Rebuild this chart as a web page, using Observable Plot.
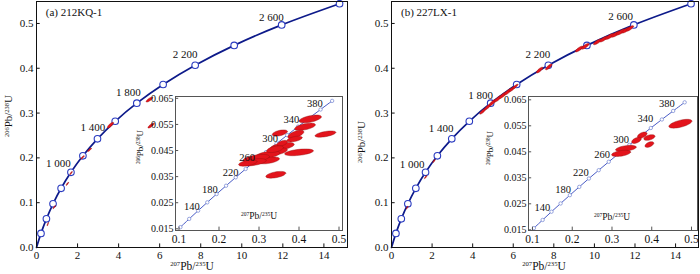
<!DOCTYPE html>
<html><head><meta charset="utf-8">
<script src="https://cdn.jsdelivr.net/npm/d3@7"></script>
<script src="https://cdn.jsdelivr.net/npm/@observablehq/plot@0.6"></script>
<style>
body{margin:0;background:#fff;}
#wrap{position:relative;width:700px;height:274px;font-family:"Liberation Serif","Times New Roman",serif;overflow:hidden;background:#fff}
#wrap svg{position:absolute;overflow:visible}
.lab{position:absolute;white-space:nowrap;line-height:1;color:#111}
.lab .s{font-size:0.58em;position:relative;top:-0.55em}
</style></head><body><div id="wrap"></div>
<script>
// ---- concordia (ages in Ma) ----
const mainAge = [0,200,400,600,800,1000,1200,1400,1600,1800,2000,2200,2400,2600,2800];
const main207 = [0,0.2177,0.4828,0.8056,1.1987,1.6774,2.2603,2.9701,3.8344,4.8869,6.1685,7.7292,9.6296,11.9437,14.7617];
const main206 = [0,0.03151,0.06402,0.09754,0.13213,0.16781,0.20460,0.24258,0.28173,0.32212,0.36376,0.40674,0.45108,0.49680,0.54399];
const insetAge = [100,120,140,160,180,200,220,240,260,280,300,320,340,360,380,400];
const inset207 = [0.1035,0.1255,0.1478,0.1707,0.1940,0.2177,0.2419,0.2666,0.2918,0.3175,0.3437,0.3705,0.3977,0.4255,0.4539,0.4828];
const inset206 = [0.01563,0.01879,0.02196,0.02513,0.02832,0.03151,0.03472,0.03793,0.04116,0.04439,0.04764,0.05089,0.05416,0.05743,0.06072,0.06402];

// ---- age labels on the curves ----
const mainLabelText = ["1 000","1 400","1 800","2 200","2 600"];
const mainLabelXA = [1.07,2.75,4.48,7.24,11.44];
const mainLabelYA = [0.1875,0.267,0.345,0.430,0.514];
const mainLabelXB = [1.02,2.45,4.39,7.21,11.29];
const mainLabelYB = [0.186,0.266,0.340,0.431,0.515];
const insetLabelText = ["140","180","220","260","300","340","380"];
const insetLabelXA = [0.132,0.177,0.229,0.270,0.3275,0.381,0.4395];
const insetLabelYA = [0.0235,0.0300,0.0367,0.0424,0.0497,0.0567,0.0631];
const insetLabelXB = [0.125,0.177,0.222,0.275,0.323,0.384,0.438];
const insetLabelYB = [0.0237,0.0304,0.0371,0.0438,0.0495,0.0576,0.0636];

// ---- ticks ----
const mainXTicks = [0,2,4,6,8,10,12,14];
const mainYTicks = [0,0.1,0.2,0.3,0.4,0.5];
const insetXTicks = [0.1,0.2,0.3,0.4,0.5];
const insetYTicks = [0.015,0.025,0.035,0.045,0.055,0.065];

// ---- analyses: [207Pb/235U, 206Pb/238U, err207, err206, rho] ----
const spotsMainA = [
 [3.60,0.273,0.15,0.0065,0.8],[5.50,0.330,0.16,0.0055,0.8],[5.58,0.272,0.15,0.0055,0.8],
 [2.58,0.218,0.09,0.0040,0.85],[2.24,0.201,0.08,0.0038,0.85],[1.68,0.166,0.06,0.0035,0.85],
 [1.50,0.142,0.06,0.0035,0.85],[0.86,0.090,0.06,0.0035,0.85],[0.55,0.052,0.035,0.004,0.85]
];
const spotsInsetA = [
 [0.428,0.0571,0.028,0.0015,0.55],[0.415,0.0541,0.026,0.0014,0.55],[0.466,0.0513,0.026,0.0012,0.55],
 [0.352,0.0517,0.019,0.0012,0.5],[0.392,0.0512,0.020,0.0016,0.6],[0.389,0.0494,0.019,0.0011,0.5],
 [0.400,0.0443,0.036,0.0013,0.45],[0.342,0.0357,0.025,0.0013,0.5],[0.358,0.0466,0.030,0.0015,0.5],
 [0.358,0.0478,0.013,0.0011,0.5],[0.345,0.0446,0.026,0.0014,0.5],[0.321,0.0433,0.031,0.0015,0.5],
 [0.325,0.0412,0.026,0.0013,0.5],[0.293,0.0420,0.033,0.0015,0.5],[0.287,0.0405,0.031,0.0014,0.5],
 [0.272,0.0402,0.023,0.0012,0.5],[0.340,0.0455,0.021,0.0013,0.5]
];
const spotsMainB = [
 [4.50,0.304,0.16,0.0065,0.85],[4.75,0.314,0.17,0.0068,0.85],[5.00,0.324,0.19,0.0075,0.85],
 [5.25,0.332,0.19,0.0075,0.85],[5.50,0.340,0.19,0.0075,0.85],[5.75,0.348,0.19,0.0075,0.85],
 [5.95,0.354,0.16,0.0065,0.85],[6.10,0.359,0.13,0.0055,0.85],[7.30,0.396,0.16,0.0065,0.8],
 [7.75,0.403,0.16,0.0065,0.8],[9.25,0.443,0.19,0.0065,0.8],[9.55,0.449,0.19,0.0065,0.8],
 [10.15,0.459,0.20,0.0065,0.8],[10.45,0.465,0.20,0.0065,0.8],[10.75,0.471,0.22,0.0068,0.8],
 [11.05,0.476,0.22,0.0068,0.8],[11.30,0.481,0.22,0.0068,0.8],[11.55,0.485,0.20,0.0065,0.8],
 [11.75,0.489,0.18,0.0062,0.8],[1.68,0.157,0.06,0.0035,0.85],[2.09,0.193,0.06,0.0035,0.85],
 [0.77,0.089,0.05,0.0035,0.85]
];
const spotsInsetB = [
 [0.472,0.0558,0.029,0.0017,0.6],[0.376,0.0514,0.012,0.0012,0.5],[0.394,0.0505,0.014,0.0011,0.45],
 [0.3615,0.0494,0.012,0.0012,0.5],[0.394,0.0478,0.011,0.0011,0.5],[0.335,0.0463,0.026,0.0012,0.45],
 [0.323,0.0444,0.024,0.0012,0.45]
];

const RED = "#e3141c", REDLINE = "#8e1212";
const FONT = "Liberation Serif, Times New Roman, serif";

function ellipseOutlines(rows){
  const out = [];
  rows.forEach((r,i)=>{
    const [cx,cy,sx,sy,rho] = r, q = Math.sqrt(1-rho*rho);
    for (let k=0;k<40;k++){
      const t = 2*Math.PI*k/40;
      out.push({id:i, x:cx+sx*Math.cos(t), y:cy+sy*(rho*Math.cos(t)+q*Math.sin(t))});
    }
  });
  return out;
}
const table = (xs,ys)=>xs.map((x,i)=>({x, y:ys[i]}));
const labTable = (t,xs,ys)=>t.map((s,i)=>({text:s,x:xs[i],y:ys[i]}));

function mainPlot(o){
  const curve = table(main207, main206);
  return Plot.plot({
    width:350, height:274, marginLeft:o.ml, marginRight:o.mr, marginTop:1, marginBottom:27,
    style:{fontFamily:FONT, fontSize:"11px", background:"transparent", color:"#111"},
    x:{domain:o.xd, ticks:mainXTicks, tickSize:0, tickPadding:4, tickFormat:d3.format("d"), label:null},
    y:{domain:o.yd, ticks:mainYTicks, tickSize:0, tickPadding:3, tickFormat:d3.format(".1f"), label:null},
    marks:[
      Plot.line(curve,{x:"x",y:"y",stroke:"#0d1a8a",strokeWidth:1.7,curve:"catmull-rom"}),
      Plot.dot(curve.slice(1),{x:"x",y:"y",r:3.3,fill:"white",stroke:"#2a3bc0",strokeWidth:1.1}),
      Plot.line(ellipseOutlines(o.spots),{x:"x",y:"y",z:"id",fill:RED,stroke:REDLINE,strokeWidth:0.4,curve:"linear-closed"}),
      Plot.text(labTable(mainLabelText,o.lx,o.ly),{x:"x",y:"y",text:"text",fontSize:11,fill:"#111"}),
      Plot.frame({stroke:"#111"}),
      Plot.ruleX(mainXTicks,{x:d=>d,y1:o.yd[0],y2:o.yd[0]+0.008,stroke:"#111"}),
      Plot.ruleY(mainYTicks,{y:d=>d,x1:o.xd[0],x2:o.xd[0]+0.18,stroke:"#111"})
    ]
  });
}
function insetPlot(o){
  const curve = table(inset207, inset206);
  const svg = Plot.plot({
    width:o.w, height:160, marginLeft:45, marginRight:3, marginTop:6, marginBottom:20,
    style:{fontFamily:FONT, fontSize:"11.5px", background:"transparent", color:"#111"},
    x:{domain:o.xd, ticks:insetXTicks, tickSize:0, tickPadding:4, tickFormat:d3.format(".1f"), label:null},
    y:{domain:o.yd, ticks:insetYTicks, tickSize:0, tickPadding:2, tickFormat:d3.format(".3f"), label:null},
    marks:[
      Plot.frame({fill:"white",stroke:null}),
      Plot.line(curve,{x:"x",y:"y",stroke:"#4a5cc6",strokeWidth:1,curve:"catmull-rom"}),
      Plot.dot(curve,{x:"x",y:"y",r:1.7,fill:"white",stroke:"#7f8fd6",strokeWidth:0.8}),
      Plot.line(ellipseOutlines(o.spots),{x:"x",y:"y",z:"id",fill:RED,stroke:REDLINE,strokeWidth:0.4,curve:"linear-closed"}),
      Plot.text(labTable(insetLabelText,o.lx,o.ly),{x:"x",y:"y",text:"text",fontSize:10.5,fill:"#111"}),
      Plot.frame({stroke:"#555"}),
      Plot.ruleX(insetXTicks,{x:d=>d,y1:o.yd[0],y2:o.yd[0]+0.0013,stroke:"#555"}),
      Plot.ruleY(insetYTicks,{y:d=>d,x1:o.xd[0],x2:o.xd[0]+0.008,stroke:"#555"})
    ]
  });
  svg.querySelectorAll('[aria-label^="y-axis"] text').forEach(t=>t.setAttribute("font-size","10px"));
  svg.querySelectorAll('[aria-label^="y-axis"]').forEach(g=>g.setAttribute("font-size","10px"));
  return svg;
}

const wrap = document.getElementById("wrap");
function place(svg,left,top){ svg.style.left=left+"px"; svg.style.top=top+"px"; wrap.appendChild(svg); }

place(mainPlot({ml:36,mr:3,xd:[0,15.15],yd:[0,0.549],spots:spotsMainA,lx:mainLabelXA,ly:mainLabelYA}),0,0);
place(mainPlot({ml:41,mr:2,xd:[0,15.13],yd:[0,0.549],spots:spotsMainB,lx:mainLabelXB,ly:mainLabelYB}),350,0);
place(insetPlot({w:215,xd:[0.09125,0.50875],yd:[0.01435,0.0657],spots:spotsInsetA,lx:insetLabelXA,ly:insetLabelYA}),130,90);
place(insetPlot({w:217,xd:[0.08994,0.5151],yd:[0.01473,0.06627],spots:spotsInsetB,lx:insetLabelXB,ly:insetLabelYB}),483,90);

const axis207 = '<span class="s">207</span>Pb/<span class="s">235</span>U';
const axis206 = '<span class="s">206</span>Pb/<span class="s">238</span>U';
function label(html,cx,cy,size,rot){
  const d = document.createElement("div");
  d.className = "lab"; d.innerHTML = html;
  d.style.fontSize = size+"px"; d.style.left = cx+"px"; d.style.top = cy+"px";
  d.style.transform = "translate(-50%,-50%)" + (rot ? " rotate(-90deg)" : "");
  wrap.appendChild(d);
}
label("(a) 212KQ-1",74,12,11,false);
label("(b) 227LX-1",429,12,11,false);
label(axis207,192,267,11.5,false);
label(axis207,544,267,11.5,false);
label(axis206,8,116,11,true);
label(axis206,361,142,11,true);
label(axis207,259,217,9.5,false);
label(axis207,612,218,9.5,false);
label(axis206,140,147,9,true);
label(axis206,490,148,9,true);
</script></body></html>
